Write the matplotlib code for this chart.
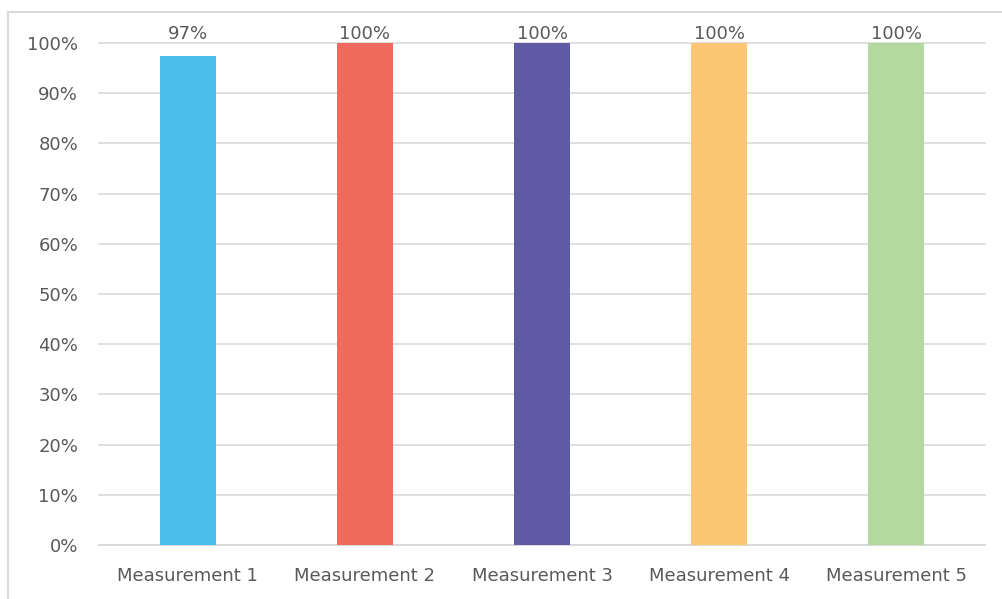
import matplotlib
matplotlib.use("Agg")
import matplotlib.pyplot as plt
from matplotlib.patches import Rectangle
from matplotlib.ticker import PercentFormatter

categories = ["Measurement 1", "Measurement 2", "Measurement 3", "Measurement 4", "Measurement 5"]
values = [0.974, 1.0, 1.0, 1.0, 1.0]
labels = ["97%", "100%", "100%", "100%", "100%"]
colors = ["#4BBDEB", "#F06B5E", "#5E5AA4", "#FDC673", "#B3D8A0"]

plt.rcParams['font.family'] = ['DejaVu Sans']
W, H = 1002, 599
fig = plt.figure(figsize=(W/100, H/100), dpi=100)
ax = fig.add_axes([99/W, 1 - 545/H, (985-99)/W, (545-43)/H])

x = list(range(len(categories)))
bars = ax.bar(x, values, width=0.316, color=colors, zorder=3)
for xi, lab in zip(x, labels):
    ax.text(xi, 1.0, lab, ha='center', va='bottom', fontsize=13, color='#595959', zorder=4)

ax.set_xlim(-0.5, len(categories) - 0.5)
ax.set_ylim(0, 1.0)
ax.set_yticks([i/10 for i in range(11)])
ax.yaxis.set_major_formatter(PercentFormatter(1.0, decimals=0))
ax.set_xticks(x)
ax.set_xticklabels(categories)
ax.tick_params(axis='both', length=0, labelsize=13, labelcolor='#595959')
ax.tick_params(axis='y', pad=15)
ax.tick_params(axis='x', pad=16)
ax.grid(axis='y', color='#D9D9D9', linewidth=1.2, zorder=0)
for gl in ax.get_ygridlines():
    gl.set_clip_on(False)
for s in ax.spines.values():
    s.set_visible(False)
ax.spines['bottom'].set_visible(True)
ax.spines['bottom'].set_color('#D9D9D9')
ax.spines['bottom'].set_linewidth(1.2)

fig.patches.append(Rectangle((8/W, -0.05), 1.1, 1 - 12/H + 0.05, transform=fig.transFigure,
                             fill=False, edgecolor='#D9D9D9', linewidth=1.5, clip_on=False))
fig.savefig("out.png", dpi=100)
